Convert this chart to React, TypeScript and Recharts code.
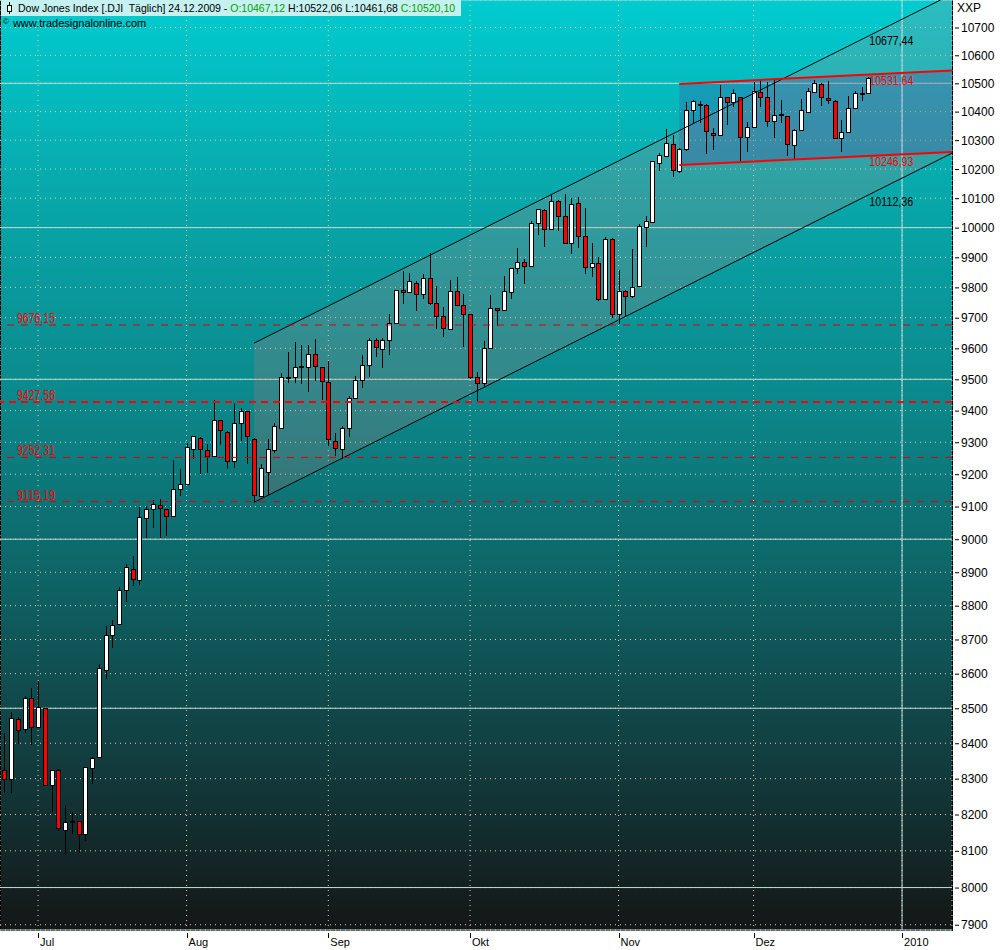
import React from 'react';
import { ComposedChart, Bar, Area, Line, XAxis, YAxis, CartesianGrid, ReferenceLine, ReferenceDot } from 'recharts';

// Dow Jones daily candles, 24.06.2009 - 24.12.2009
const dates = [
  '24.06', '25.06', '26.06', '29.06', '30.06',
  '01.07', '02.07', '06.07', '07.07', '08.07', '09.07', '10.07', '13.07', '14.07', '15.07', '16.07', '17.07', '20.07', '21.07', '22.07', '23.07', '24.07', '27.07', '28.07', '29.07', '30.07', '31.07',
  '03.08', '04.08', '05.08', '06.08', '07.08', '10.08', '11.08', '12.08', '13.08', '14.08', '17.08', '18.08', '19.08', '20.08', '21.08', '24.08', '25.08', '26.08', '27.08', '28.08', '31.08',
  '01.09', '02.09', '03.09', '04.09', '08.09', '09.09', '10.09', '11.09', '14.09', '15.09', '16.09', '17.09', '18.09', '21.09', '22.09', '23.09', '24.09', '25.09', '28.09', '29.09', '30.09',
  '01.10', '02.10', '05.10', '06.10', '07.10', '08.10', '09.10', '12.10', '13.10', '14.10', '15.10', '16.10', '19.10', '20.10', '21.10', '22.10', '23.10', '26.10', '27.10', '28.10', '29.10', '30.10',
  '02.11', '03.11', '04.11', '05.11', '06.11', '09.11', '10.11', '11.11', '12.11', '13.11', '16.11', '17.11', '18.11', '19.11', '20.11', '23.11', '24.11', '25.11', '27.11', '30.11',
  '01.12', '02.12', '03.12', '04.12', '07.12', '08.12', '09.12', '10.12', '11.12', '14.12', '15.12', '16.12', '17.12', '18.12', '21.12', '22.12', '23.12', '24.12',
];

const opens = [
  8325, 8300, 8469, 8440, 8529,
  8447, 8502, 8281, 8325, 8158, 8182, 8183, 8147, 8331, 8360, 8612, 8712, 8747, 8847, 8909, 8878, 9065, 9092, 9105, 9091, 9070, 9153,
  9171, 9280, 9314, 9276, 9256, 9369, 9332, 9240, 9360, 9398, 9311, 9134, 9207, 9277, 9345, 9508, 9508, 9540, 9541, 9581, 9541,
  9490, 9304, 9280, 9344, 9441, 9497, 9547, 9627, 9597, 9627, 9683, 9791, 9784, 9816, 9778, 9830, 9749, 9706, 9662, 9789, 9742,
  9712, 9506, 9488, 9600, 9731, 9726, 9784, 9864, 9884, 9871, 10015, 10060, 9994, 10092, 10041, 9949, 10085, 9972, 9868, 9882, 9763, 9962,
  9713, 9789, 9770, 9803, 10002, 10020, 10222, 10245, 10287, 10192, 10270, 10404, 10430, 10424, 10324, 10318, 10450, 10433, 10450, 10310,
  10345, 10470, 10453, 10366, 10386, 10385, 10285, 10336, 10400, 10468, 10498, 10447, 10438, 10308, 10329, 10414, 10465, 10467.12,
];

const highs = [
  8428, 8490, 8475, 8534, 8559,
  8580, 8502, 8325, 8328, 8224, 8206, 8183, 8333, 8362, 8629, 8741, 8757, 8855, 8926, 8950, 9098, 9103, 9121, 9124, 9093, 9245, 9217,
  9297, 9320, 9318, 9295, 9435, 9371, 9335, 9425, 9407, 9400, 9313, 9231, 9311, 9361, 9521, 9587, 9619, 9611, 9611, 9630, 9541,
  9559, 9329, 9350, 9446, 9511, 9578, 9632, 9632, 9634, 9711, 9792, 9853, 9848, 9820, 9843, 9913, 9803, 9734, 9824, 9835, 9778,
  9712, 9522, 9625, 9774, 9733, 9838, 9866, 9931, 9894, 10024, 10063, 10062, 10114, 10094, 10114, 10102, 10104, 10066, 9949, 9902, 9967, 9965,
  9858, 9790, 9928, 10011, 10041, 10227, 10256, 10339, 10318, 10272, 10433, 10440, 10437, 10426, 10341, 10494, 10452, 10479, 10452, 10362,
  10506, 10512, 10503, 10512, 10441, 10386, 10338, 10444, 10482, 10512, 10500, 10508, 10440, 10370, 10455, 10474, 10488, 10522.06,
];

const lows = [
  8261, 8261, 8399, 8428, 8394,
  8445, 8281, 8207, 8155, 8088, 8147, 8094, 8128, 8284, 8358, 8585, 8675, 8745, 8811, 8858, 8862, 9004, 9033, 9004, 9009, 9068, 9131,
  9170, 9246, 9202, 9205, 9254, 9290, 9216, 9218, 9303, 9231, 9113, 9130, 9134, 9266, 9343, 9487, 9487, 9484, 9459, 9495, 9435,
  9288, 9257, 9248, 9318, 9440, 9473, 9507, 9571, 9536, 9578, 9678, 9745, 9782, 9723, 9763, 9741, 9664, 9637, 9660, 9740, 9605,
  9500, 9428, 9476, 9597, 9673, 9724, 9761, 9844, 9811, 9869, 9974, 9936, 9992, 9989, 9945, 9911, 9930, 9844, 9835, 9755, 9760, 9700,
  9680, 9704, 9766, 9800, 9934, 10018, 10192, 10240, 10172, 10186, 10263, 10359, 10360, 10252, 10265, 10316, 10353, 10418, 10228, 10259,
  10343, 10418, 10347, 10308, 10359, 10245, 10233, 10333, 10396, 10465, 10421, 10426, 10304, 10259, 10326, 10412, 10436, 10461.68,
];

const closes = [
  8300, 8472, 8438, 8529, 8447,
  8504, 8281, 8325, 8164, 8178, 8183, 8147, 8332, 8359, 8616, 8712, 8744, 8848, 8916, 8881, 9069, 9093, 9108, 9096, 9070, 9154, 9171,
  9286, 9320, 9280, 9256, 9370, 9338, 9241, 9361, 9398, 9321, 9135, 9218, 9279, 9350, 9506, 9509, 9539, 9544, 9581, 9544, 9496,
  9311, 9281, 9345, 9441, 9497, 9547, 9627, 9605, 9627, 9683, 9792, 9784, 9820, 9779, 9830, 9749, 9707, 9665, 9789, 9742, 9712,
  9509, 9488, 9600, 9731, 9726, 9787, 9865, 9886, 9871, 10016, 10063, 9996, 10092, 10041, 9949, 10081, 9972, 9868, 9882, 9763, 9963, 9713,
  9789, 9772, 9802, 10006, 10023, 10227, 10247, 10291, 10197, 10270, 10407, 10437, 10426, 10332, 10318, 10451, 10434, 10464, 10310, 10345,
  10472, 10453, 10366, 10389, 10390, 10286, 10337, 10406, 10472, 10501, 10452, 10441, 10308, 10329, 10414, 10465, 10466, 10520.1,
];

// axis ticks (index of first trading day per month)
const monthTicks = [5, 27, 48, 69, 91, 111, 133];
const monthLabels = ['Jul', 'Aug', 'Sep', 'Okt', 'Nov', 'Dez', '2010'];
const priceTicks = [
  7900, 8000, 8100, 8200, 8300, 8400, 8500, 8600, 8700, 8800, 8900, 9000, 9100, 9200, 9300,
  9400, 9500, 9600, 9700, 9800, 9900, 10000, 10100, 10200, 10300, 10400, 10500, 10600, 10700,
];
const majorTicks = [8000, 8500, 9000, 9500, 10000, 10500];

// horizontal support lines
const levelValues = [9676.15, 9427.56, 9252.31, 9115.19];
const levelLabels = ['9676.15', '9427.56', '9252.31', '9115.19'];

// rising trend channel (index, top, bottom)
const channelIdx = [37, 140.4];
const channelTop = [9617, 10821];
const channelBottom = [9113, 10255];

// consolidation range
const rangeIdx = [100, 140.4];
const rangeTop = [10498, 10546];
const rangeBottom = [10214, 10259];

// values printed at the last bar
const lastIdx = 128;
const channelLabels = [
  { v: 10677.44, text: '10677,44', color: '#000' },
  { v: 10112.36, text: '10112,36', color: '#000' },
  { v: 10531.64, text: '10531,64', color: '#ff0000' },
  { v: 10246.93, text: '10246,93', color: '#ff0000' },
];

const Y_DOMAIN = [7886, 10800];
const X_DOMAIN = [-0.64, 140.4];
const FONT = '"Liberation Sans", Arial, sans-serif';

const candles = dates.map((d, i) => ({
  i,
  date: d + '.2009',
  o: opens[i],
  h: highs[i],
  l: lows[i],
  c: closes[i],
  range: [lows[i], highs[i]],
}));

const channelData = channelIdx.map((i, k) => ({
  i,
  band: [channelBottom[k], channelTop[k]],
  top: channelTop[k],
  bottom: channelBottom[k],
}));

const rangeData = rangeIdx.map((i, k) => ({
  i,
  band: [rangeBottom[k], rangeTop[k]],
  top: rangeTop[k],
  bottom: rangeBottom[k],
}));

const Candle = (props: any) => {
  const { x, y, width, height, payload } = props;
  if (payload == null || !isFinite(y) || !isFinite(height)) return null;
  const { o, h, l, c } = payload;
  const span = Math.log(h) - Math.log(l);
  const py = (v: number) => (span > 0 ? y + ((Math.log(h) - Math.log(v)) / span) * height : y);
  const cx = Math.round(x + width / 2);
  const yo = py(o);
  const yc = py(c);
  const top = Math.min(yo, yc);
  const bot = Math.max(yo, yc);
  const wick = (
    <line x1={cx + 0.5} x2={cx + 0.5} y1={Math.round(y)} y2={Math.round(y + height)} stroke="#000" strokeWidth={1} shapeRendering="crispEdges" />
  );
  if (bot - top < 1.5) {
    return (
      <g>
        {wick}
        <line x1={cx - 2} x2={cx + 3} y1={Math.round(yc) + 0.5} y2={Math.round(yc) + 0.5} stroke="#000" strokeWidth={2} shapeRendering="crispEdges" />
      </g>
    );
  }
  const t = Math.round(top);
  const b = Math.round(bot);
  return (
    <g>
      {wick}
      <rect
        x={cx - 1.5}
        y={t + 0.5}
        width={4}
        height={Math.max(b - t, 1)}
        fill={c >= o ? '#ffffff' : '#ff0000'}
        stroke="#000"
        strokeWidth={1}
        shapeRendering="crispEdges"
      />
    </g>
  );
};

const PriceTick = (props: any) => {
  const { x, y, payload } = props;
  return (
    <g>
      <line x1={x + 3} x2={x + 7} y1={y + 0.5} y2={y + 0.5} stroke="#000" />
      <text x={x + 9} y={y + 4.5} fontSize={12} fontFamily={FONT} fill="#000">
        {payload.value}
      </text>
    </g>
  );
};

const MonthTick = (props: any) => {
  const { x, y, payload } = props;
  const k = monthTicks.indexOf(payload.value);
  return (
    <g>
      <line x1={Math.round(x) + 0.5} x2={Math.round(x) + 0.5} y1={y + 3} y2={y + 8} stroke="#000" />
      <text x={x + 2} y={y + 16} fontSize={11} fontFamily={FONT} fill="#000">
        {monthLabels[k]}
      </text>
    </g>
  );
};

const levelLabel = (text: string) => (p: any) => {
  const vb = p.viewBox || {};
  return (
    <text x={vb.x + 17} y={vb.y - 2} fontSize={14} fontFamily={FONT} fill="#ff0000" textLength={38} lengthAdjust="spacingAndGlyphs">
      {text}
    </text>
  );
};

const valueLabel = (text: string, color: string) => (p: any) => (
  <text x={p.cx + 1} y={p.cy + 11} fontSize={12} fontFamily={FONT} fill={color} textLength={44} lengthAdjust="spacingAndGlyphs">
    {text}
  </text>
);

export default function App() {
  return (
    <div style={{ position: 'absolute', left: 0, top: 0, width: 1000, height: 950, background: '#ffffff', overflow: 'hidden' }}>
      <div
        style={{
          position: 'absolute',
          left: 0,
          top: 0,
          width: 953,
          height: 931,
          boxSizing: 'border-box',
          borderLeft: '1px solid #000',
          borderRight: '1px solid #000',
          borderBottom: '1px solid #000',
          background: 'linear-gradient(to bottom, #00ccd0 0%, #07a9ac 20%, #0b8a8d 42%, #0e6466 62%, #123c3e 82%, #141616 100%)',
        }}
      />
      <div style={{ position: 'absolute', left: 0, top: 0, pointerEvents: 'none' }}>
        <ComposedChart width={1000} height={950} data={candles} margin={{ top: 0, right: 0, bottom: 0, left: 0 }}>
          <XAxis
            dataKey="i"
            type="number"
            domain={X_DOMAIN}
            ticks={monthTicks}
            allowDataOverflow
            height={20}
            axisLine={false}
            tickLine={false}
            tickSize={0}
            tickMargin={0}
            tick={<MonthTick />}
          />
          <YAxis
            yAxisId="main"
            orientation="right"
            scale="log"
            domain={Y_DOMAIN}
            ticks={priceTicks}
            allowDataOverflow
            width={48}
            axisLine={false}
            tickLine={false}
            tickSize={0}
            tickMargin={0}
            tick={<PriceTick />}
          />
          <YAxis yAxisId="major" hide scale="log" domain={Y_DOMAIN} ticks={majorTicks} allowDataOverflow />
          <CartesianGrid yAxisId="main" stroke="#d8d0b4" strokeDasharray="1 4" />
          <CartesianGrid yAxisId="major" vertical={false} stroke="#c0dcd0" />
          <ReferenceLine yAxisId="main" x={133} stroke="#c8dcd8" />
          <Bar yAxisId="main" dataKey="range" barSize={5} isAnimationActive={false} activeBar={false} shape={<Candle />} />
          <Area
            yAxisId="main"
            data={channelData}
            dataKey="band"
            type="linear"
            stroke="none"
            fill="#ff7878"
            fillOpacity={0.17}
            dot={false}
            activeDot={false}
            isAnimationActive={false}
          />
          <Area
            yAxisId="main"
            data={rangeData}
            dataKey="band"
            type="linear"
            stroke="none"
            fill="#5633a0"
            fillOpacity={0.23}
            dot={false}
            activeDot={false}
            isAnimationActive={false}
          />
          <Line yAxisId="main" data={channelData} dataKey="top" stroke="#000" strokeWidth={1} dot={false} activeDot={false} isAnimationActive={false} />
          <Line yAxisId="main" data={channelData} dataKey="bottom" stroke="#000" strokeWidth={1} dot={false} activeDot={false} isAnimationActive={false} />
          <Line yAxisId="main" data={rangeData} dataKey="top" stroke="#ff0000" strokeWidth={2} dot={false} activeDot={false} isAnimationActive={false} />
          <Line yAxisId="main" data={rangeData} dataKey="bottom" stroke="#ff0000" strokeWidth={2} dot={false} activeDot={false} isAnimationActive={false} />
          {levelValues.map((v, k) => (
            <ReferenceLine
              key={v}
              yAxisId="main"
              y={v}
              stroke={k === 1 ? '#ff0000' : '#e00000'}
              strokeWidth={k === 1 ? 2 : 1}
              strokeDasharray={k === 1 ? '7 5' : '7 7'}
              label={levelLabel(levelLabels[k])}
            />
          ))}
          {channelLabels.map((lb) => (
            <ReferenceDot
              key={lb.text}
              yAxisId="main"
              x={lastIdx}
              y={lb.v}
              r={0}
              shape={valueLabel(lb.text, lb.color)}
            />
          ))}
        </ComposedChart>
      </div>
      {/* title bar */}
      <div
        style={{
          position: 'absolute',
          left: 1,
          top: 0,
          height: 16,
          paddingLeft: 17,
          paddingRight: 6,
          background: '#c6f1f1',
          fontFamily: FONT,
          fontSize: 10.5,
          lineHeight: '16px',
          whiteSpace: 'nowrap',
          color: '#000',
        }}
      >
        <svg width={14} height={16} style={{ position: 'absolute', left: 2, top: 0 }}>
          <line x1={6.5} x2={6.5} y1={2} y2={14} stroke="#000" />
          <rect x={4.5} y={5.5} width={4} height={6} fill="#fff" stroke="#000" />
        </svg>
        Dow Jones Index [.DJI&nbsp; Täglich] 24.12.2009 - <span style={{ color: '#00a000' }}>O:10467,12</span> H:10522,06 L:10461,68{' '}
        <span style={{ color: '#00a000' }}>C:10520,10</span>
      </div>
      <div style={{ position: 'absolute', left: 3, top: 17, fontFamily: FONT, fontSize: 11, color: '#000', whiteSpace: 'nowrap' }}>
        <span style={{ fontSize: 8, verticalAlign: 'top' }}>©</span>
        <span style={{ marginLeft: 4 }}>www.tradesignalonline.com</span>
      </div>
      <div style={{ position: 'absolute', left: 957, top: 1, fontFamily: FONT, fontSize: 12, color: '#000' }}>XXP</div>
    </div>
  );
}
